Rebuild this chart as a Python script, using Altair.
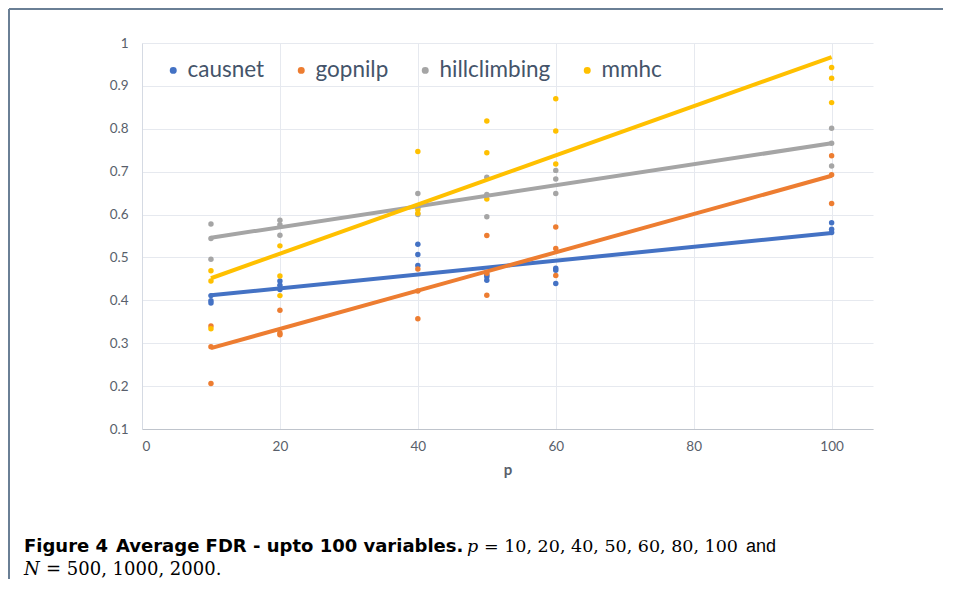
import altair as alt
import pandas as pd

# ---------------- data ----------------
methods = ["causnet", "gopnilp", "hillclimbing", "mmhc"]
colors = ["#4472C4", "#ED7D31", "#A5A5A5", "#FFC000"]
p_levels = [10, 20, 40, 50, 60, 100]   # three runs (N = 500, 1000, 2000) per p
causnet = [0.411, 0.399, 0.394, 0.445, 0.435, 0.425, 0.531, 0.507, 0.481,
           0.459, 0.455, 0.447, 0.475, 0.470, 0.439, 0.581, 0.566, 0.558]
gopnilp = [0.340, 0.292, 0.206, 0.377, 0.324, 0.320, 0.473, 0.422, 0.357,
           0.551, 0.463, 0.412, 0.571, 0.521, 0.458, 0.737, 0.693, 0.626]
hillclimbing = [0.578, 0.544, 0.496, 0.587, 0.576, 0.552, 0.649, 0.617, 0.600,
                0.687, 0.647, 0.595, 0.703, 0.683, 0.649, 0.801, 0.766, 0.713]
mmhc = [0.469, 0.445, 0.334, 0.527, 0.457, 0.411, 0.747, 0.612, 0.603,
        0.818, 0.744, 0.636, 0.870, 0.795, 0.718, 0.943, 0.918, 0.861]
x_ticks = [0, 20, 40, 60, 80, 100]
y_ticks = [0.1, 0.2, 0.3, 0.4, 0.5, 0.6, 0.7, 0.8, 0.9, 1.0]

cap_fig = "Figure 4"
cap_title = "Average FDR - upto 100 variables."
cap_p = "p"
cap_pvals = "= 10, 20, 40, 50, 60, 80, 100"
cap_and = "and"
cap_n = "N"
cap_nvals = "= 500, 1000, 2000."

# ---------------- table ----------------
series = {"causnet": causnet, "gopnilp": gopnilp,
          "hillclimbing": hillclimbing, "mmhc": mmhc}
rows = []
for m in methods:
    for i, v in enumerate(series[m]):
        rows.append({"method": m, "p": p_levels[i // 3], "FDR": v})
df = pd.DataFrame(rows)

W, H = 731, 386
PAD_L, PAD_T, PAD_R, PAD_B = 134, 35, 70, 150
LBL = "#595f6b"

xenc = alt.X("p:Q", scale=alt.Scale(domain=[0, 106], nice=False),
             axis=alt.Axis(values=x_ticks, title="p", labelPadding=10,
                           titlePadding=10, domainColor="#bfc4cc",
                           gridColor="#e6e9ef"))
yenc = alt.Y("FDR:Q", scale=alt.Scale(domain=[0.1, 1.0], nice=False, zero=False),
             axis=alt.Axis(values=y_ticks, format=".1~f", title=None,
                           labelPadding=14, domainColor="#d5dae3",
                           gridColor="#e6e9ef"))
cscale = alt.Scale(domain=methods, range=colors)

base = alt.Chart(df)
pts = base.mark_circle(size=30, opacity=1).encode(
    x=xenc, y=yenc,
    color=alt.Color("method:N", scale=cscale, legend=alt.Legend(
        title=None, orient="none", legendX=20, legendY=16,
        direction="horizontal", labelFont="Lato", labelFontSize=22.5,
        labelColor="#44546A", symbolType="circle", symbolSize=30,
        labelOffset=3, columnPadding=25, padding=0)),
)
lines = base.transform_regression("p", "FDR", groupby=["method"]).mark_line(
    strokeWidth=4).encode(
    x="p:Q", y="FDR:Q",
    color=alt.Color("method:N", scale=cscale, legend=None),
)

one = alt.Data(values=[{"k": 1}])


def txt(s, x, y, font, size, weight="normal", style="normal"):
    return alt.Chart(one).mark_text(
        text=s, font=font, fontSize=size, fontWeight=weight, fontStyle=style,
        align="left", baseline="alphabetic", color="#000000"
    ).encode(x=alt.value(x), y=alt.value(y))


ox, oy = 142, 43  # page position of plot origin
caps = [
    txt(cap_fig, 24 - ox, 552 - oy, "DejaVu Sans", 18, "bold"),
    txt(cap_title, 116 - ox, 552 - oy, "DejaVu Sans", 18, "bold"),
    txt(cap_p, 467 - ox, 552 - oy, "DejaVu Serif", 17.5, style="italic"),
    txt(cap_pvals, 484 - ox, 552 - oy, "DejaVu Serif", 17.5),
    txt(cap_and, 746 - ox, 552 - oy, "Liberation Sans", 18),
    txt(cap_n, 24 - ox, 575 - oy, "DejaVu Serif", 18, style="italic"),
    txt(cap_nvals, 46 - ox, 575 - oy, "DejaVu Serif", 18),
]

frame_top = alt.Chart(one).mark_rule(color="#6a7f95", strokeWidth=2).encode(
    x=alt.value(-PAD_L + 1), x2=alt.value(W + PAD_R), y=alt.value(-PAD_T + 1))
frame_left = alt.Chart(one).mark_rule(color="#6a7f95", strokeWidth=2).encode(
    x=alt.value(-PAD_L + 1), y=alt.value(-PAD_T + 1), y2=alt.value(H + PAD_B))

chart = alt.layer(pts, lines, frame_top, frame_left, *caps).properties(
    width=W, height=H,
    autosize=alt.AutoSizeParams(type="none"),
    padding={"left": PAD_L, "top": PAD_T, "right": PAD_R, "bottom": PAD_B},
    background="white",
).configure_view(stroke=None).configure_axis(
    labelFont="Lato", labelFontSize=13.5, labelColor=LBL, ticks=False,
    titleFont="Lato", titleFontSize=15, titleColor=LBL, titleFontWeight="bold",
    gridWidth=1,
)

chart.save("out.html", embed_options={"renderer": "svg", "actions": False})
